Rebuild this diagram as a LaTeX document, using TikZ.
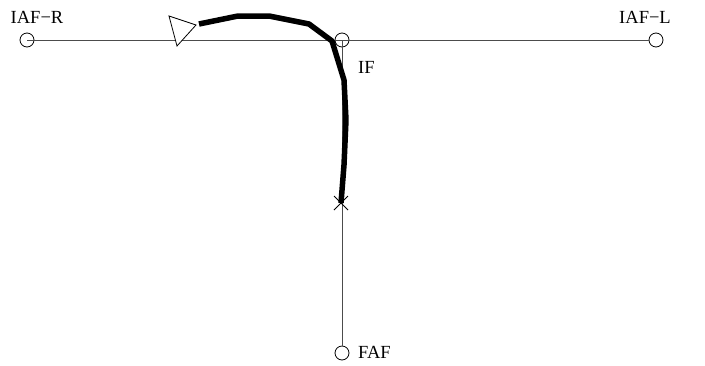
\documentclass[tikz,border=0pt]{standalone}
\usepackage{fontspec}
\setmainfont{Liberation Serif}
\usetikzlibrary{calc}
\begin{document}
\begin{tikzpicture}[x=1pt,y=-1pt,
  fix/.style={circle,draw,inner sep=0pt,minimum size=14pt,line width=0.8pt},
  lbl/.style={font=\fontsize{18.5pt}{21pt}\selectfont,inner sep=0pt},
  leg/.style={draw=black!70,line width=0.7pt},
  track/.style={line width=5.5pt,line join=round}]
\useasboundingbox (0,0) rectangle (705,365);
\node[fix] (iafr) at (27,40) {};
\node[fix] (if) at (342,40) {};
\node[fix] (iafl) at (656,40) {};
\node[fix] (faf) at (342,353) {};
\coordinate (x) at (341,203);
\draw[leg] (iafr.center) -- (if.center);
\draw[leg] (if.center) -- (iafl.west);
\draw[leg] (if.center) -- (faf.north);
\node[lbl] (tr) at (37,17) {IAF−R};
\node[lbl] (tl) at (645,17) {IAF−L};
\node[lbl,anchor=west] (tif) at (358,67) {IF};
\node[lbl,anchor=west] (tfaf) at (358,352) {FAF};
\draw[line width=0.8pt,fill=white] (169,16) -- (196,25) -- (177,46) -- cycle;
\draw[track] (199,24) -- (238,16) -- (269,16) -- (309,24) -- (332,41) -- (344,80) -- (346,120) -- (344,165) -- (x);
\draw[line width=0.9pt] ($(x)+(-7,-7)$) -- ($(x)+(7,7)$) ($(x)+(-7,7)$) -- ($(x)+(7,-7)$);
\end{tikzpicture}
\end{document}
